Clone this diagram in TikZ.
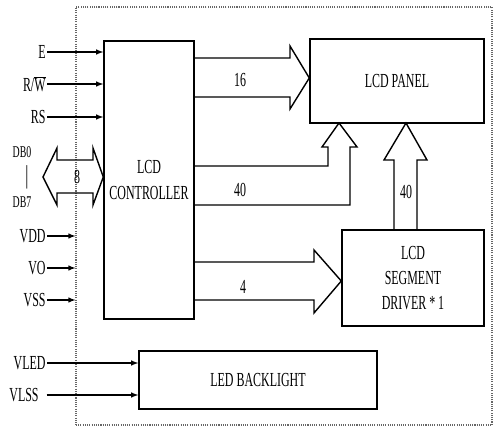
\documentclass[tikz,border=0pt]{standalone}
\usepackage{fontspec}
\setmainfont{Liberation Serif}[FakeStretch=0.6]
\begin{document}
\begin{tikzpicture}[
  x=0.03cm, y=-0.03cm,
  blk/.style={draw, line width=1.2pt, align=center, inner sep=0pt,
              font=\fontsize{17}{23}\selectfont},
  lbl/.style={anchor=east, inner sep=1pt, font=\fontsize{17}{19}\selectfont},
  num/.style={inner sep=0pt, font=\fontsize{17}{19}\selectfont},
  db/.style={inner sep=0pt, font=\fontsize{14}{16}\selectfont},
  sig/.style={-latex, line width=1.1pt},
  bus/.style={line width=1.2pt, line join=miter}
]
\useasboundingbox (0,0) rectangle (495,428);

% module outline
\node[draw=black!60, densely dotted, line width=0.9pt, minimum width=12.48cm,
      minimum height=12.54cm] (mod) at (284,216) {};

% blocks
\node[blk, minimum width=2.7cm, minimum height=8.34cm] (ctrl) at (149,180) {LCD\\CONTROLLER};
\node[blk, minimum width=5.22cm, minimum height=2.52cm] (panel) at (397,81) {LCD PANEL};
\node[blk, minimum width=4.26cm, minimum height=2.88cm, font=\fontsize{17}{21}\selectfont]
  (drv) at (413,278) {LCD\\SEGMENT\\DRIVER * 1};
\node[blk, minimum width=7.14cm, minimum height=1.74cm] (led) at (258,380) {LED BACKLIGHT};

% control signals
\node[lbl] (e)  at (47,52)  {E};
\node[lbl] (rw) at (47,84)  {R/$\overline{\mbox{W}}$};
\node[lbl] (rs) at (47,117) {RS};
\draw[sig] (e.east)  -- (e.east -| ctrl.west);
\draw[sig] (rw.east) -- (rw.east -| ctrl.west);
\draw[sig] (rs.east) -- (rs.east -| ctrl.west);

% data bus DB0..DB7
\node[db] (db0) at (22,152) {DB0};
\node[font=\fontsize{22}{24}\selectfont, inner sep=0pt] (dbbar) at (27,177) {|};
\node[db] (db7) at (22,202) {DB7};
\draw[bus] (ctrl.west |- 0,177) -- (93,148) -- (93,160) -- (57,160) -- (57,148)
  -- (43,177) -- (57,205) -- (57,193) -- (93,193) -- (93,205) -- cycle;
\node[num] (n8) at (77,177) {8};

% supply
\node[lbl] (vdd) at (47,236) {VDD};
\node[lbl] (vo)  at (47,268) {VO};
\node[lbl] (vss) at (47,300) {VSS};
\draw[sig] (vdd.east) -- (vdd.east -| mod.west);
\draw[sig] (vo.east)  -- (vo.east -| mod.west);
\draw[sig] (vss.east) -- (vss.east -| mod.west);

% backlight supply
\node[lbl] (vled) at (47,363) {VLED};
\node[lbl] (vlss) at (40,395) {VLSS};
\draw[sig] (vled.east) -- (vled.east -| led.west);
\draw[sig] ([xshift=0.2cm]vlss.east) -- (vlss.east -| led.west);

% 16 to panel
\draw[bus] (ctrl.east |- 0,58) -- (290,58) -- (290,46) -- (panel.west |- 0,78)
  -- (290,109) -- (290,97) -- (ctrl.east |- 0,97);
\node[num] (n16) at (240,80) {16};

% 40 to panel
\draw[bus] (ctrl.east |- 0,166) -- (328,166) -- (328,147) -- (322,147) -- (339,123)
  -- (357,147) -- (350,147) -- (350,205) -- (ctrl.east |- 0,205);
\node[num] (n40a) at (240,190) {40};

% 40 driver to panel
\draw[bus] (394,0 |- drv.north) -- (394,160) -- (384,160) -- (406,123) -- (427,160)
  -- (417,160) -- (417,0 |- drv.north);
\node[num] (n40b) at (406,192) {40};

% 4 to driver
\draw[bus] (ctrl.east |- 0,262) -- (314,262) -- (314,250) -- (drv.west |- 0,281)
  -- (314,313) -- (314,300) -- (ctrl.east |- 0,300);
\node[num] (n4) at (243,287) {4};

\end{tikzpicture}
\end{document}
